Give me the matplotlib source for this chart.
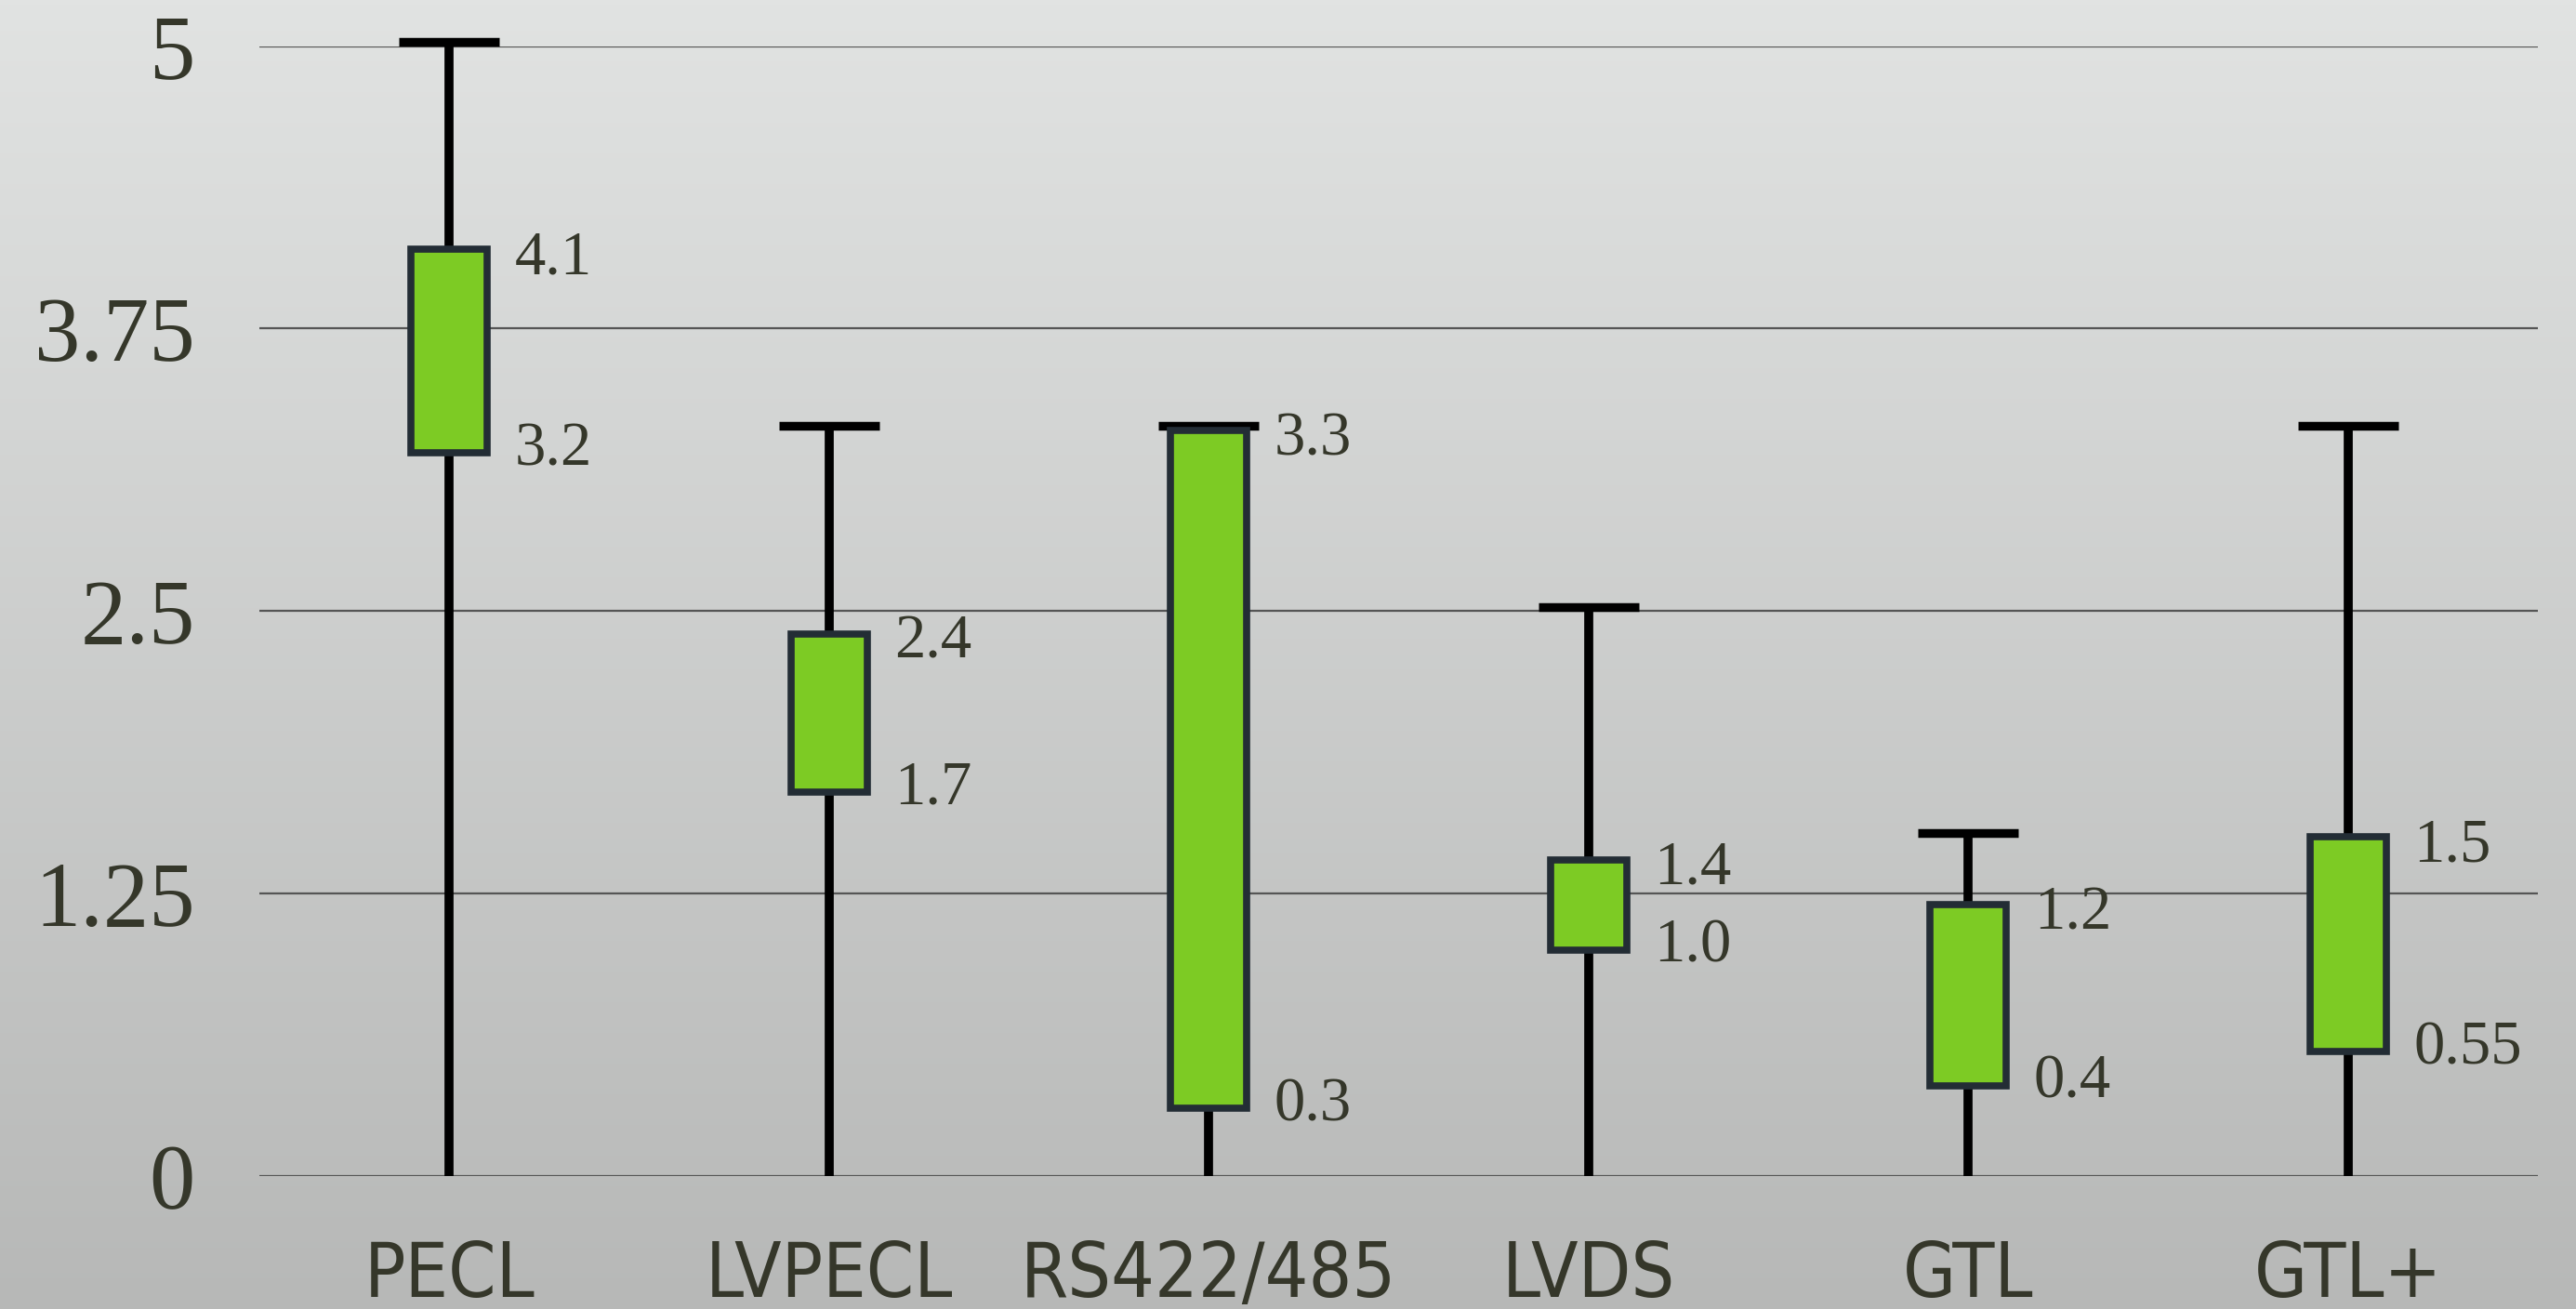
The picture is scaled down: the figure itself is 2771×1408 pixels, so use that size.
import numpy as np
import matplotlib
matplotlib.use("Agg")
import matplotlib.pyplot as plt
import matplotlib.transforms as mtransforms
from matplotlib import font_manager

# data
categories = ["PECL", "LVPECL", "RS422/485", "LVDS", "GTL", "GTL+"]
whisker_low = [0, 0, 0, 0, 0, 0]
whisker_high = [5, 3.3, 3.3, 2.5, 1.5, 3.3]
box_low = [3.2, 1.7, 0.3, 1.0, 0.4, 0.55]
box_high = [4.1, 2.4, 3.3, 1.4, 1.2, 1.5]
low_labels = ["3.2", "1.7", "0.3", "1.0", "0.4", "0.55"]
high_labels = ["4.1", "2.4", "3.3", "1.4", "1.2", "1.5"]
yticks = [0, 1.25, 2.5, 3.75, 5]
ytick_labels = ["0", "1.25", "2.5", "3.75", "5"]

TEXT = "#35372a"
SERIF = ["Liberation Serif", "DejaVu Serif"]

# condensed sans for the category names
cond = font_manager.FontProperties(family="DejaVu Sans", stretch="condensed")
cat_font = font_manager.FontProperties(fname=font_manager.findfont(cond), size=59)

fig = plt.figure(figsize=(27.71, 14.08), dpi=100)

# background gradient
bg = fig.add_axes([0, 0, 1, 1], zorder=-10)
grad = np.linspace(0, 1, 256).reshape(-1, 1)
top_c = np.array([0xe1, 0xe3, 0xe2]) / 255
bot_c = np.array([0xb7, 0xb8, 0xb7]) / 255
img = top_c[None, None, :] * (1 - grad[:, :, None]) + bot_c[None, None, :] * grad[:, :, None]
bg.imshow(img, aspect="auto", extent=[0, 1, 0, 1])
bg.set_axis_off()

ax = fig.add_axes([0.1007, 0.1016, 0.8845, 0.8632])
ax.set_facecolor("none")
x = np.arange(len(categories))

# whiskers
ax.vlines(x, whisker_low, whisker_high, color="black", linewidth=7, zorder=3)
# caps sit just above the top value
cap_tr = ax.transData + mtransforms.ScaledTranslation(0, 4.5 / 100, fig.dpi_scale_trans)
for xi, hi in zip(x, whisker_high):
    ax.plot([xi - 0.132, xi + 0.132], [hi, hi], color="black", linewidth=6.8,
            solid_capstyle="butt", transform=cap_tr, clip_on=False, zorder=3)

# boxes
heights = [h - l for h, l in zip(box_high, box_low)]
ax.bar(x, heights, bottom=box_low, width=0.2, color="#7dcb24",
       edgecolor="#232d35", linewidth=5.5, zorder=4)

# value labels
for xi, lo, hi, lt, ht in zip(x, box_low, box_high, low_labels, high_labels):
    ax.annotate(ht, (xi + 0.173, hi), xytext=(0, -7), textcoords="offset points",
                ha="left", va="center", fontsize=48, family=SERIF, color=TEXT)
    ax.annotate(lt, (xi + 0.173, lo), xytext=(0, 2.5), textcoords="offset points",
                ha="left", va="center", fontsize=48, family=SERIF, color=TEXT)

ax.set_xlim(-0.5, len(categories) - 0.5)
ax.set_ylim(0, 5)
ax.set_yticks(yticks)
ax.set_yticklabels(ytick_labels, family=SERIF, fontsize=71, color=TEXT)
ax.set_xticks(x)
ax.set_xticklabels(categories, fontproperties=cat_font, color=TEXT)
ax.tick_params(axis="both", length=0)
ax.tick_params(axis="y", pad=50)
ax.tick_params(axis="x", pad=49)
ax.yaxis.grid(True, color="#555555", linewidth=1.6)
ax.set_axisbelow(True)
for s in ax.spines.values():
    s.set_visible(False)

fig.savefig("out.png", dpi=100)
